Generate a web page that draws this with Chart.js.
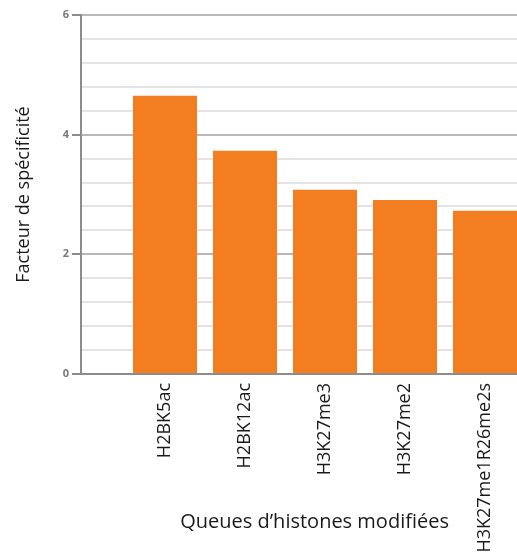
<!DOCTYPE html>
<html>
<head>
<meta charset="utf-8">
<script src="https://cdn.jsdelivr.net/npm/chart.js@4.4.1/dist/chart.umd.min.js"></script>
<style>
  html, body { margin: 0; padding: 0; background: #fff; }
  #wrap { width: 517px; height: 553px; }
</style>
</head>
<body>
<div id="wrap"><canvas id="bar-chart"></canvas></div>
<script>
// histone tails and their specificity factor
let categories = ["H2BK5ac", "H2BK12ac", "H3K27me3", "H3K27me2", "H3K27me1R26me2s"]
let values = [4.65, 3.73, 3.08, 2.91, 2.73]
let yTicks = [0, 2, 4, 6]

// bars sit at x = 1..5 on a linear axis so the gap after the y axis matches the original
let points = values.map((v, i) => ({ x: i + 1, y: v }))

function isMajor(v) {
    return yTicks.some(t => Math.abs(t - v) < 1e-6)
}

// the x title sits a bit right of the plot centre in the original
let xTitle = "\u00a0\u00a0\u00a0\u00a0\u00a0\u00a0Queues d\u2019histones modifiées"

new Chart(document.getElementById("bar-chart"), {
    type: 'bar',
    data: {
        datasets: [{
            label: "Facteur de spécificité",
            backgroundColor: "#F37E22",
            data: points,
            categoryPercentage: 1,
            barPercentage: 0.8
        }]
    },
    options: {
        responsive: true,
        maintainAspectRatio: false,
        animation: false,
        layout: { padding: { top: 15, right: 0, left: 0, bottom: 0 } },
        plugins: {
            legend: { display: false },
            tooltip: { enabled: false }
        },
        scales: {
            x: {
                type: 'linear',
                offset: false,
                min: -0.05,
                max: 5.4,
                grid: { display: false },
                border: { display: true, color: '#8c8c8c', width: 2 },
                ticks: {
                    stepSize: 1,
                    autoSkip: false,
                    includeBounds: false,
                    maxRotation: 90,
                    minRotation: 90,
                    padding: 1,
                    color: '#1a1a1a',
                    font: { family: 'Open Sans', size: 18 },
                    callback: function (v) {
                        let i = Math.round(v) - 1
                        return (Math.abs(v - Math.round(v)) < 1e-6 && categories[i]) ? categories[i] : ''
                    }
                },
                title: {
                    display: true,
                    text: xTitle,
                    color: '#1a1a1a',
                    font: { family: 'Open Sans', size: 20 },
                    padding: { top: 0, bottom: 19 }
                },
                afterFit: function (scale) { scale.height = 179 }
            },
            y: {
                min: 0,
                max: 6,
                grid: {
                    color: ctx => isMajor(ctx.tick.value) ? '#b8b8b8' : '#e4e4e4',
                    lineWidth: 2,
                    tickLength: 9,
                    tickColor: ctx => isMajor(ctx.tick.value) ? '#8c8c8c' : 'rgba(0,0,0,0)'
                },
                border: { display: true, color: '#8c8c8c', width: 2 },
                ticks: {
                    stepSize: 0.4,
                    autoSkip: false,
                    padding: 3,
                    color: '#7a7a7a',
                    font: { family: 'Open Sans', size: 11, weight: 'bold' },
                    callback: v => isMajor(v) ? String(Math.round(v)) : ''
                },
                title: {
                    display: true,
                    text: "Facteur de spécificité",
                    color: '#1a1a1a',
                    font: { family: 'Open Sans', size: 18 },
                    padding: { top: 13, bottom: 0 }
                },
                afterFit: function (scale) { scale.width = 81 }
            }
        }
    }
});
</script>
</body>
</html>
